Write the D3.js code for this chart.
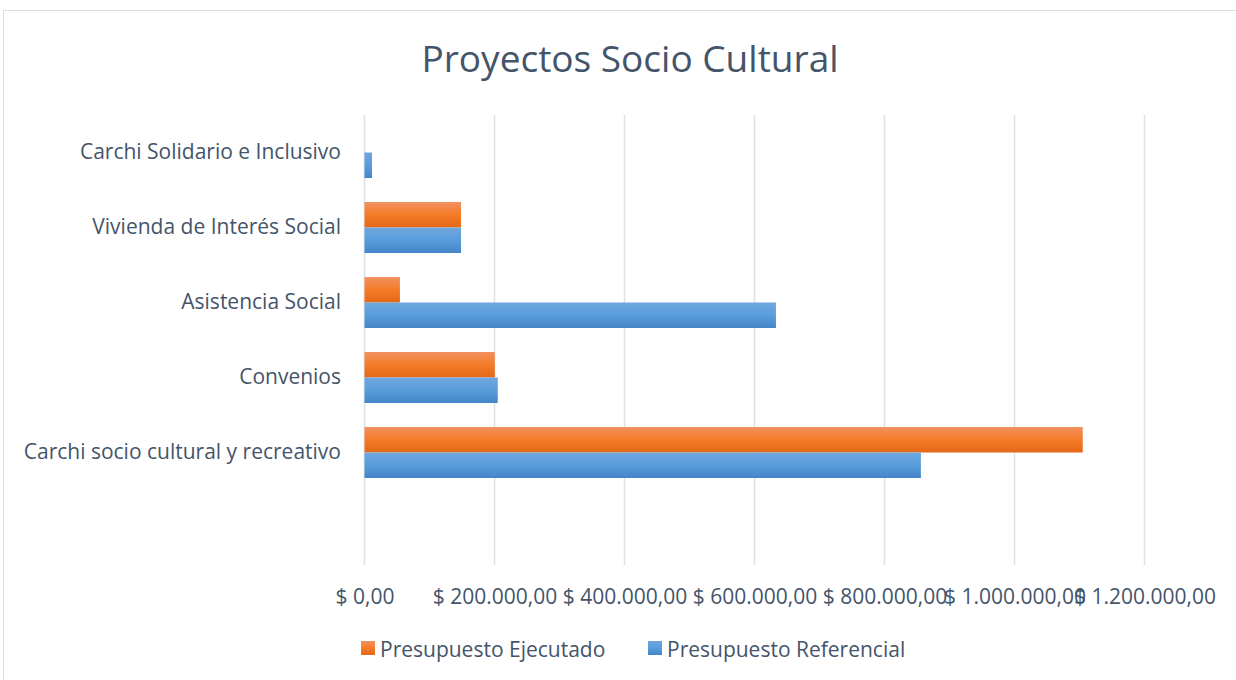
<!DOCTYPE html>
<html>
<head>
<meta charset="utf-8">
<script src="https://d3js.org/d3.v7.min.js"></script>
<style>
  body { margin: 0; background: #fff; }
  text { font-family: "Open Sans", Lato, sans-serif; fill: #44546a; }
</style>
</head>
<body>
<svg></svg>
<script>
// data (bottom slot in the reference is empty)
var categories = ["Carchi Solidario e Inclusivo", "Vivienda de Interés Social", "Asistencia Social", "Convenios", "Carchi socio cultural y recreativo", ""];
var ejecutado   = [0, 148500, 54500, 200500, 1105000, null];
var referencial = [11500, 148500, 633000, 205000, 856000, null];
var ticks = [0, 200000, 400000, 600000, 800000, 1000000, 1200000];
var seriesNames = ["Presupuesto Ejecutado", "Presupuesto Referencial"];

var W = 1236, H = 680;
var svg = d3.select("svg").attr("width", W).attr("height", H);

// outer chart border
svg.append("path")
    .attr("d", "M3.5," + (H + 5) + "V10.5H" + (W + 5))
    .attr("fill", "none")
    .attr("stroke", "#d9dce3")
    .attr("stroke-width", 1);

var x = d3.scaleLinear().domain([0, 1200000]).range([364.5, 1144.5]);
var y = d3.scaleBand().domain(categories).range([115, 565]).paddingInner(0.32).paddingOuter(0.16);
var sub = d3.scaleBand().domain(seriesNames).range([0, y.bandwidth()]);

// gradients
var defs = svg.append("defs");
function grad(id, stops) {
  var g = defs.append("linearGradient").attr("id", id)
      .attr("x1", 0).attr("y1", 0).attr("x2", 0).attr("y2", 1);
  stops.forEach(function(s) {
    g.append("stop").attr("offset", s[0]).attr("stop-color", s[1]);
  });
}
grad("gOrange", [[0, "#f29160"], [0.5, "#f47b28"], [1, "#e36818"]]);
grad("gBlue", [[0, "#6fa7de"], [0.5, "#5a9ddd"], [1, "#4385c6"]]);
var fills = {"Presupuesto Ejecutado": "url(#gOrange)", "Presupuesto Referencial": "url(#gBlue)"};

// title
svg.append("text")
    .attr("x", 630).attr("y", 72)
    .attr("text-anchor", "middle")
    .attr("font-size", 37)
    .text("Proyectos Socio Cultural");

// gridlines
svg.append("g").selectAll("line")
  .data(ticks)
  .enter().append("line")
    .attr("x1", function(d) { return x(d); })
    .attr("x2", function(d) { return x(d); })
    .attr("y1", 115).attr("y2", 565)
    .attr("stroke", "#dde1e8")
    .attr("stroke-width", 1.6);

// x axis labels
var fmt = function(d) {
  var s = d3.format(",.2f")(d).replace(/,/g, "#").replace(".", ",").replace(/#/g, ".");
  return "$ " + s;
};
var xa = svg.append("g").attr("transform", "translate(0,595)")
    .call(d3.axisBottom(x).tickValues(ticks).tickFormat(fmt).tickSize(0).tickPadding(0));
xa.select(".domain").remove();
xa.selectAll("text")
    .attr("font-family", null)
    .attr("fill", null)
    .attr("font-size", 21)
    .attr("dy", "0.45em");

// y axis labels
var ya = svg.append("g").attr("transform", "translate(341,0)")
    .call(d3.axisLeft(y).tickSize(0).tickPadding(0));
ya.select(".domain").remove();
ya.selectAll("text")
    .attr("font-family", null)
    .attr("fill", null)
    .attr("font-size", 21);

// bars
var rows = categories.map(function(c, i) {
  return [
    {cat: c, s: seriesNames[0], v: ejecutado[i]},
    {cat: c, s: seriesNames[1], v: referencial[i]}
  ];
});
svg.append("g").selectAll("g")
  .data(rows)
  .enter().append("g")
    .attr("transform", function(d) { return "translate(0," + y(d[0].cat) + ")"; })
  .selectAll("rect")
  .data(function(d) { return d.filter(function(e) { return e.v; }); })
  .enter().append("rect")
    .attr("x", x(0))
    .attr("y", function(d) { return sub(d.s); })
    .attr("width", function(d) { return x(d.v) - x(0); })
    .attr("height", sub.bandwidth())
    .attr("fill", function(d) { return fills[d.s]; });

// legend
var legend = svg.append("g");
var lx = [361, 648];
seriesNames.forEach(function(n, i) {
  legend.append("rect")
      .attr("x", lx[i]).attr("y", 641)
      .attr("width", 14).attr("height", 14)
      .attr("fill", fills[n]);
  legend.append("text")
      .attr("x", lx[i] + 19).attr("y", 657)
      .attr("font-size", 21)
      .text(n);
});
</script>
</body>
</html>
